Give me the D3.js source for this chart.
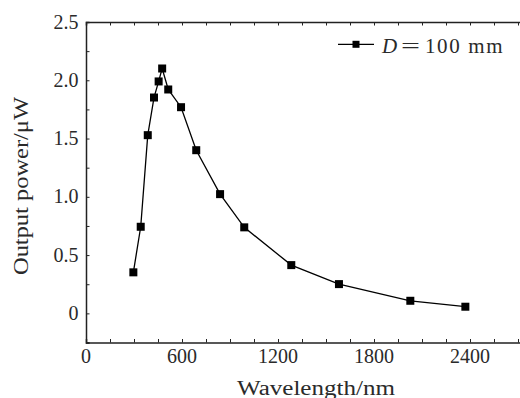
<!DOCTYPE html>
<html>
<head>
<meta charset="utf-8">
<script src="https://cdn.jsdelivr.net/npm/d3@7/dist/d3.min.js"></script>
<style>
html,body{margin:0;padding:0;background:#fff;}
svg{display:block;}
text{font-family:"Liberation Serif","DejaVu Serif",serif;fill:#2a2a2a;}
</style>
</head>
<body>
<svg id="chart" width="520" height="398"></svg>
<script>
const wavelength = [296, 342, 386, 425, 454, 476, 514, 594, 689, 838, 989, 1283, 1581, 2027, 2371];
const power = [0.352, 0.743, 1.529, 1.852, 1.990, 2.101, 1.921, 1.769, 1.400, 1.023, 0.738, 0.414, 0.251, 0.108, 0.057];
const xTicks = [0, 600, 1200, 1800, 2400];
const yTicks = [0, 0.5, 1.0, 1.5, 2.0, 2.5];
const yTickLabels = ["0", "0.5", "1.0", "1.5", "2.0", "2.5"];
const seriesName = "100 mm";
const xTitle = "Wavelength/nm";
const yTitle = "Output power/μW";

(function () {
const svg = d3.select("#chart");
const mL = 86, mR = 86 + 2900 * 0.16, mT = 22, mB = 342.5;
const x = d3.scaleLinear().domain([0, 2900]).range([mL, mR]);
const y = d3.scaleLinear().domain([-0.25, 2.5]).range([mB, mT]);

const xMinor = d3.range(0, 2901, 150);
const yMinor = d3.range(-0.25, 2.51, 0.25);
const axisColor = "#222";

const gb = svg.append("g").attr("transform", `translate(0,${mB})`)
  .call(d3.axisBottom(x).tickValues(xMinor).tickSize(-3.5).tickFormat(""));
const gt = svg.append("g").attr("transform", `translate(0,${mT})`)
  .call(d3.axisTop(x).tickValues(xMinor).tickSize(-3.5).tickFormat(""));
const gl = svg.append("g").attr("transform", `translate(${mL},0)`)
  .call(d3.axisLeft(y).tickValues(yMinor).tickSize(-3.5).tickFormat(""));
[gb, gt, gl].forEach(g => {
  g.select(".domain").attr("stroke", axisColor).attr("stroke-width", 1.5);
  g.selectAll(".tick line").attr("stroke", axisColor).attr("stroke-width", 1);
});

svg.append("g").selectAll("text").data(xTicks).join("text")
  .attr("x", d => x(d)).attr("y", 363).attr("text-anchor", "middle")
  .style("font-size", "20px").text(d => d);
svg.append("g").selectAll("text").data(yTicks).join("text")
  .attr("x", 78.5).attr("y", d => y(d) + 6.5).attr("text-anchor", "end")
  .style("font-size", "20px").text((d, i) => yTickLabels[i]);

svg.append("text").attr("x", 316).attr("y", 395).attr("text-anchor", "middle")
  .attr("textLength", 158).attr("lengthAdjust", "spacingAndGlyphs")
  .style("font-size", "20px").text(xTitle);
svg.append("text").attr("transform", "translate(28,186) rotate(-90)")
  .attr("text-anchor", "middle").attr("textLength", 178).attr("lengthAdjust", "spacingAndGlyphs")
  .style("font-size", "20px").text(yTitle);

const pts = wavelength.map((w, i) => [w, power[i]]);
svg.append("path").datum(pts)
  .attr("fill", "none").attr("stroke", "#000").attr("stroke-width", 1.3)
  .attr("d", d3.line().x(d => x(d[0])).y(d => y(d[1])));
const ms = 8;
svg.append("g").selectAll("rect").data(pts).join("rect")
  .attr("x", d => x(d[0]) - ms / 2).attr("y", d => y(d[1]) - ms / 2)
  .attr("width", ms).attr("height", ms).attr("fill", "#000");

const lg = svg.append("g");
lg.append("line").attr("x1", 338).attr("x2", 374).attr("y1", 44.3).attr("y2", 44.3)
  .attr("stroke", "#000").attr("stroke-width", 1.3);
lg.append("rect").attr("x", 356 - 3.5).attr("y", 44.3 - 3.5).attr("width", 7).attr("height", 7).attr("fill", "#000");
const lt = lg.append("text").attr("y", 52.5).style("font-size", "21px");
lt.append("tspan").attr("x", 382).style("font-style", "italic").text("D");
lt.append("tspan").attr("x", 401).attr("textLength", 19).attr("lengthAdjust", "spacingAndGlyphs").text("=");
lt.append("tspan").attr("x", 425).attr("textLength", 77.5).attr("lengthAdjust", "spacing").text(seriesName);
})();
</script>
</body>
</html>
